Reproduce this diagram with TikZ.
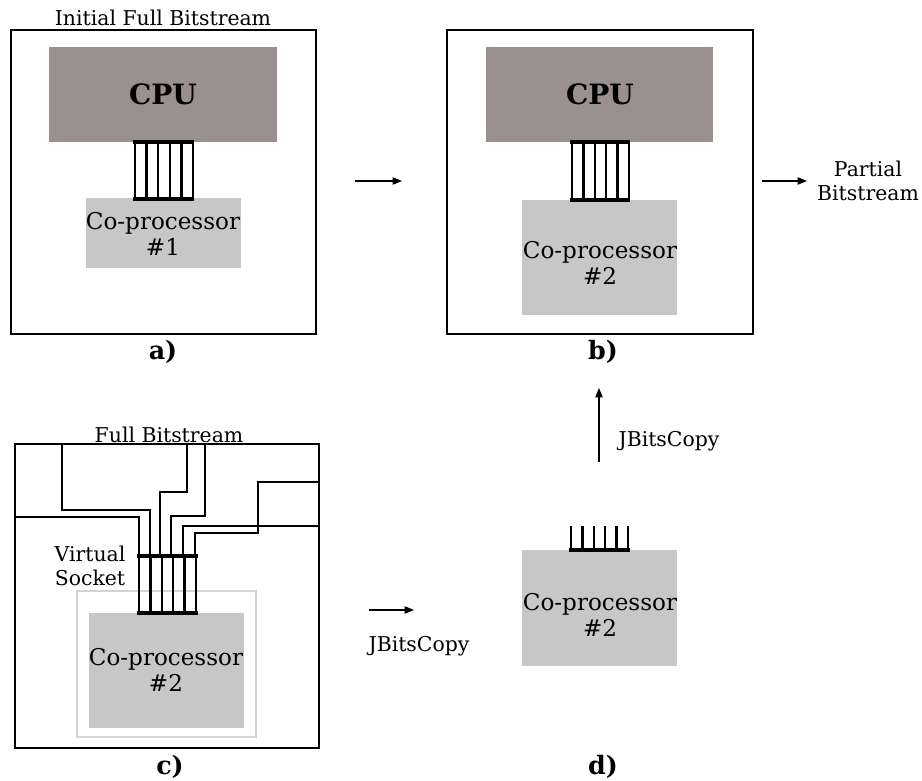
\documentclass[tikz,border=0pt]{standalone}
\usepackage{fontspec}
\setmainfont{DejaVu Serif}
\usetikzlibrary{arrows.meta}
\definecolor{cpugray}{HTML}{9A9090}
\definecolor{cogray}{HTML}{C7C7C7}
\definecolor{framegray}{HTML}{D4D4D4}
\begin{document}
\begin{tikzpicture}[x=0.75pt,y=-0.75pt,
  outer/.style={draw=black,line width=1.6pt},
  cpufill/.style={fill=cpugray},
  cofill/.style={fill=cogray},
  bar/.style={line width=3.6pt},
  pin/.style={line width=1.8pt},
  wire/.style={line width=1pt},
  lbl/.style={font=\fontsize{15.3}{17.5}\selectfont,align=center},
  cotext/.style={font=\fontsize{17.3}{20}\selectfont,align=center},
  cputext/.style={font=\fontsize{21}{24}\selectfont\bfseries},
  captext/.style={font=\fontsize{19}{22}\selectfont\bfseries},
  arr/.style={-{Triangle[length=7pt,width=5.5pt]},line width=0.9pt}]
\useasboundingbox (0,0) rectangle (922,781);

% ---------- panel a ----------
\node[lbl] (titleA) at (163,18) {Initial Full Bitstream};
\draw[outer] (11,30) rectangle (316,334);
\fill[cpufill] (49,47) rectangle (277,142);
\node[cputext] (cpuA) at (163,94) {CPU};
\fill[cofill] (86,198) rectangle (241,268);
\node[cotext] (coA) at (163,234) {Co-processor\\\#1};
\foreach \i in {0,...,5} \draw[pin] ({135+11.6*\i},142) -- ({135+11.6*\i},199);
\draw[bar] (133,142) -- (194,142);
\draw[bar] (133,199) -- (194,199);
\node[captext] (capA) at (163,352) {a)};

% arrow a -> b
\coordinate (abS) at (355,181);
\coordinate (abE) at (402,181);
\draw[arr] (abS) -- (abE);

% ---------- panel b ----------
\draw[outer] (447,30) rectangle (753,334);
\fill[cpufill] (486,47) rectangle (713,142);
\node[cputext] (cpuB) at (600,94) {CPU};
\fill[cofill] (522,200) rectangle (677,315);
\node[cotext] (coB) at (600,263) {Co-processor\\\#2};
\foreach \i in {0,...,5} \draw[pin] ({572+11.4*\i},142) -- ({572+11.4*\i},200);
\draw[bar] (570,142) -- (630,142);
\draw[bar] (570,200) -- (630,200);
\node[captext] (capB) at (603,352) {b)};

\coordinate (bpS) at (762,181);
\coordinate (bpE) at (807,181);
\draw[arr] (bpS) -- (bpE);
\node[lbl] (partial) at (868,181) {Partial\\Bitstream};

% ---------- panel c ----------
\node[lbl] (titleC) at (169,435) {Full Bitstream};
\draw[draw=framegray,line width=0.8pt] (77,591) rectangle (256,737);
\fill[cofill] (89,613) rectangle (244,728);
\node[cotext] (coC) at (166,670) {Co-processor\\\#2};
% wires
\draw[wire] (15,517) -- (139,517) -- (139,556);
\draw[wire] (62,444) -- (62,510) -- (150,510) -- (150,556);
\draw[wire] (187,444) -- (187,492) -- (160,492) -- (160,556);
\draw[wire] (205,444) -- (205,516) -- (171,516) -- (171,556);
\draw[wire] (319,526) -- (183,526) -- (183,556);
\draw[wire] (319,482) -- (258,482) -- (258,533) -- (195,533) -- (195,556);
\foreach \i in {0,...,5} \draw[pin] ({139+11.4*\i},556) -- ({139+11.4*\i},613);
\draw[bar] (137,556) -- (198,556);
\draw[bar] (137,613) -- (198,613);
\draw[outer] (15,444) rectangle (319,748);
\node[lbl] (vsock) at (90,566) {Virtual\\Socket};
\node[captext] (capC) at (170,767) {c)};

% arrow c -> d
\coordinate (cdS) at (369,610);
\coordinate (cdE) at (414,610);
\draw[arr] (cdS) -- (cdE);
\node[lbl] (jbc1) at (419,646) {JBitsCopy};

% ---------- panel d ----------
\fill[cofill] (522,550) rectangle (677,666);
\node[cotext] (coD) at (600,615) {Co-processor\\\#2};
\foreach \i in {0,...,5} \draw[pin] ({571+11.4*\i},526) -- ({571+11.4*\i},550);
\draw[bar] (569,550) -- (630,550);
\coordinate (upS) at (599,462);
\coordinate (upE) at (599,388);
\draw[arr] (upS) -- (upE);
\node[lbl] (jbc2) at (669,441) {JBitsCopy};
\node[captext] (capD) at (603,767) {d)};
\end{tikzpicture}
\end{document}
